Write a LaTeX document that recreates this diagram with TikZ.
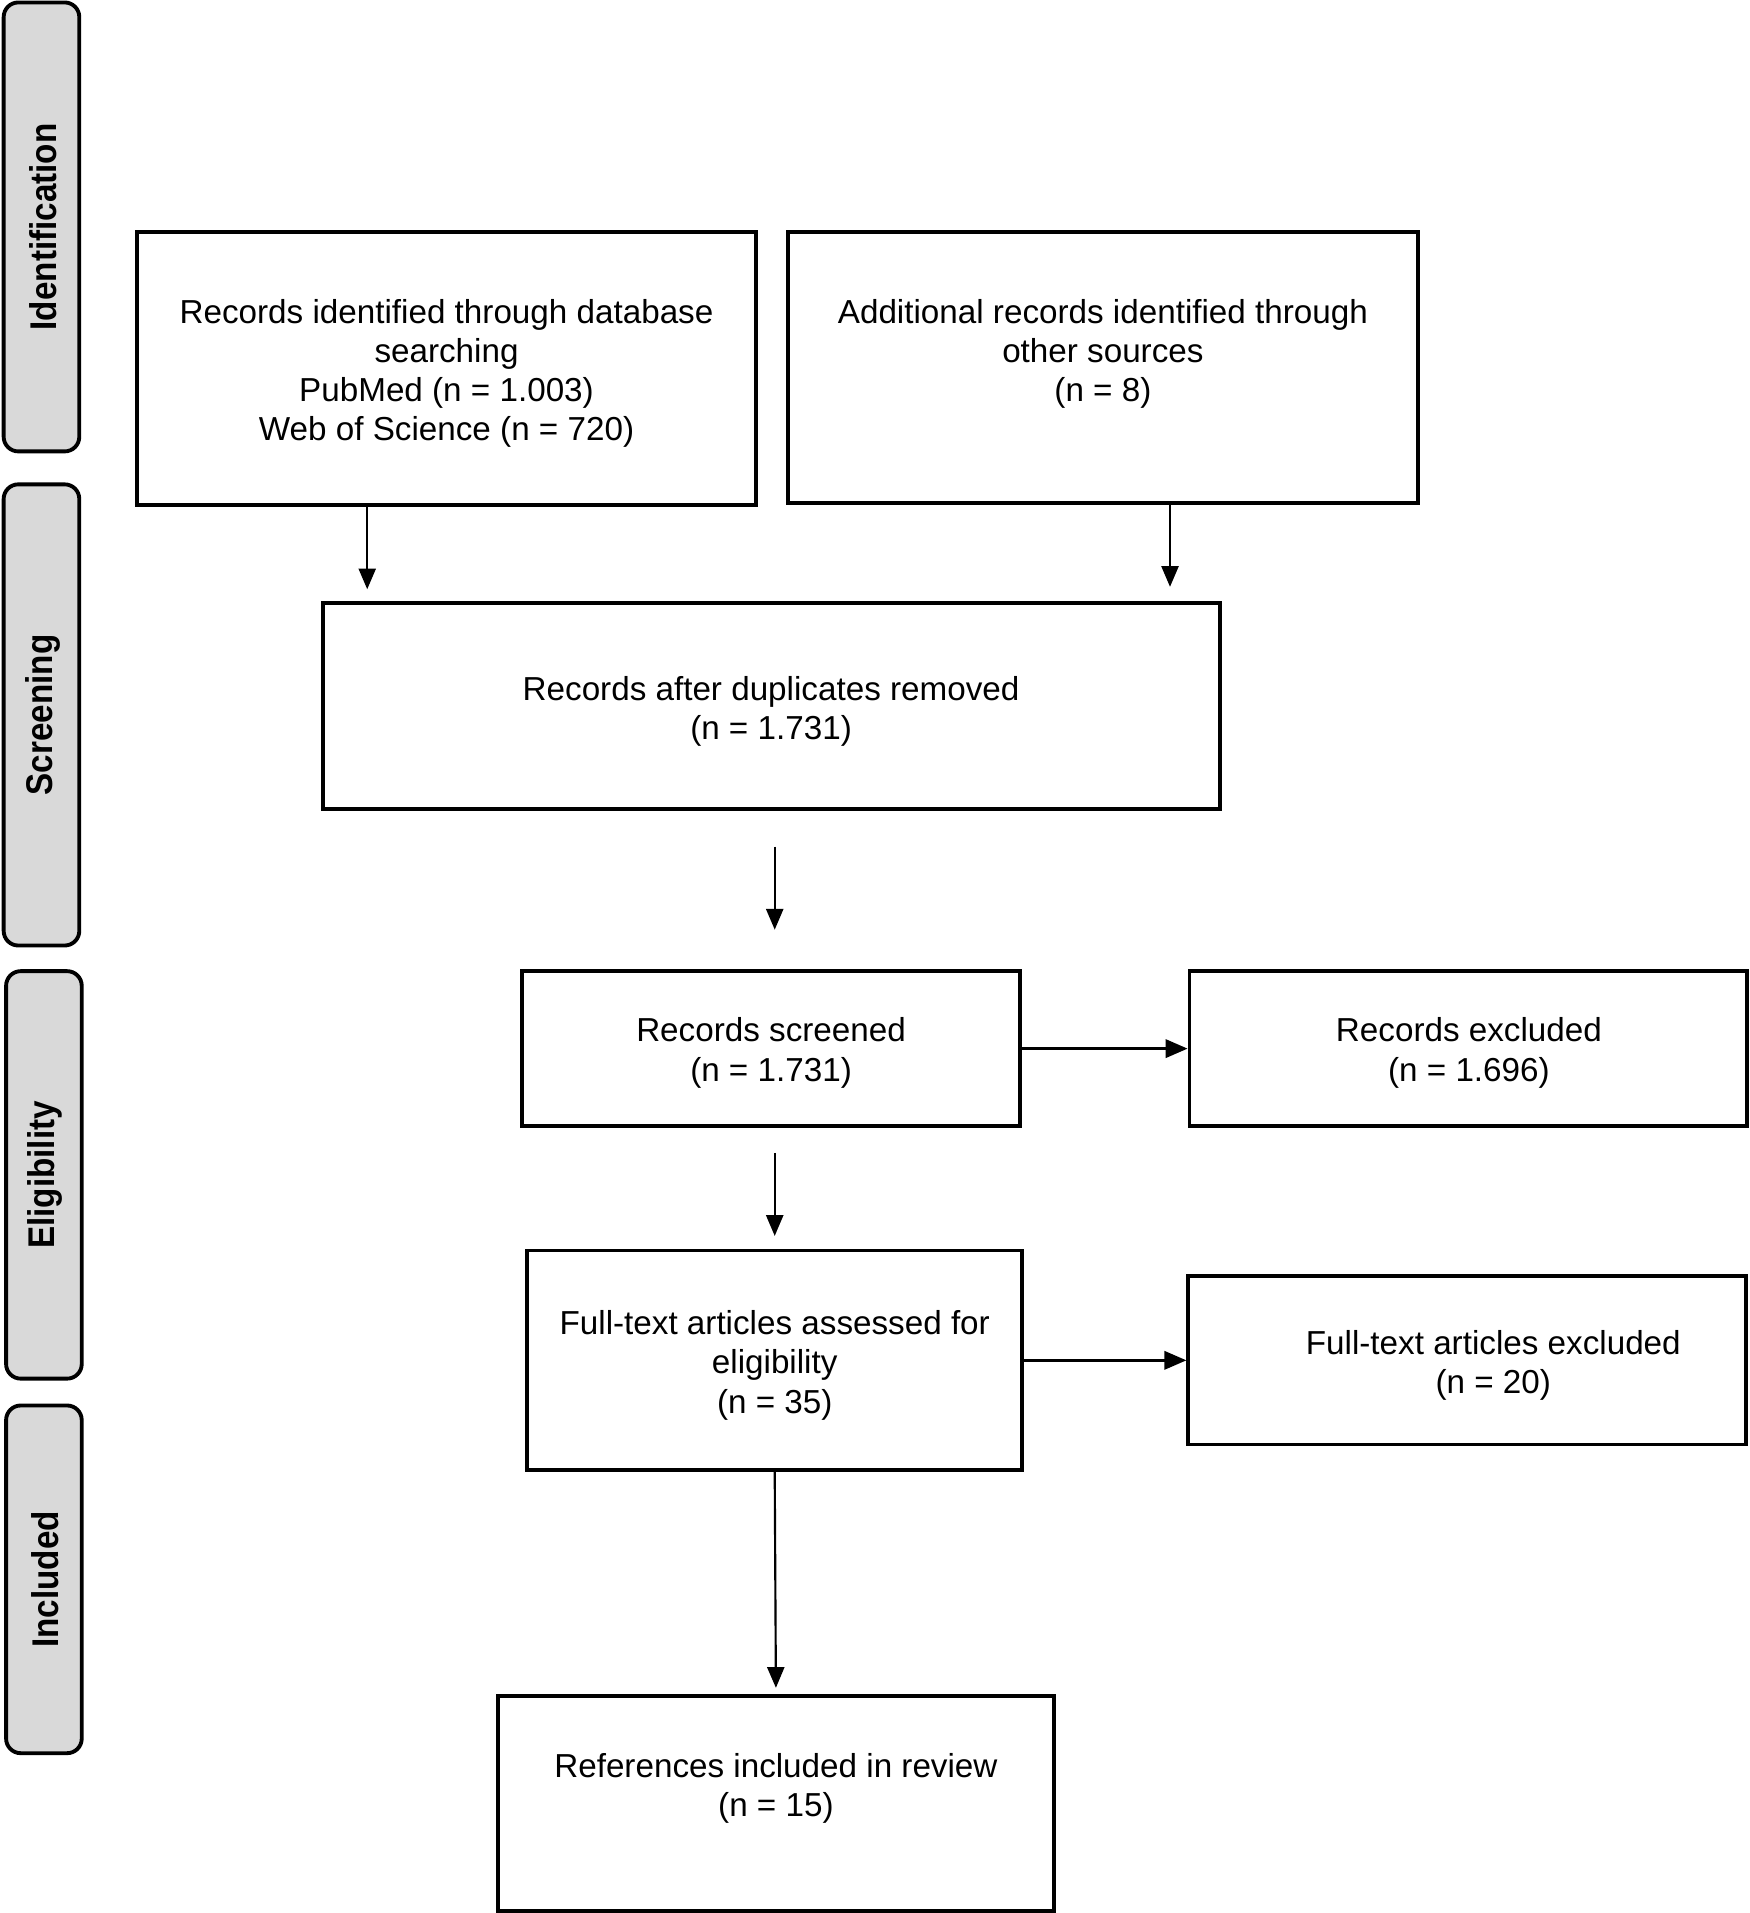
\documentclass[tikz,border=0pt]{standalone}
\usepackage{fontspec}
\setmainfont{Liberation Sans}
\usetikzlibrary{arrows.meta,calc}
\begin{document}
\begin{tikzpicture}[x=0.02cm,y=-0.02cm,
  box/.style={draw=black,line width=1.8pt,fill=white,inner sep=0pt},
  tab/.style={draw=black,line width=1.8pt,fill=black!15,rounded corners=0.24cm,inner sep=0pt},
  tabtxt/.style={font=\fontsize{15.5}{18}\selectfont\bfseries,rotate=90,inner sep=0pt},
  txt/.style={font=\fontsize{15.5}{18.3}\selectfont,align=center,inner sep=0pt,yshift=-3*0.02cm},
  arr/.style={line width=1pt,-{Triangle[length=0.34cm,width=0.28cm]}},
  harr/.style={line width=1.2pt,-{Triangle[length=0.36cm,width=0.3cm]}}]
\useasboundingbox (0,0) rectangle (1434,1568);
% phase tabs
\node[tab,minimum width=62*0.02cm,minimum height=368*0.02cm] (tid) at (34,186) {};
\node[tabtxt] (lid) at (35,186) {\scalebox{1}[1.12]{Identification}};
\node[tab,minimum width=62*0.02cm,minimum height=378*0.02cm] (tsc) at (34,586) {};
\node[tabtxt] (lsc) at (35,586) {\scalebox{1}[1.12]{Screening}};
\node[tab,minimum width=62*0.02cm,minimum height=334*0.02cm] (tel) at (36,963) {};
\node[tabtxt] (lel) at (37,963) {\scalebox{1}[1.12]{Eligibility}};
\node[tab,minimum width=62*0.02cm,minimum height=285*0.02cm] (tin) at (36,1294.5) {};
\node[tabtxt] (lin) at (37,1294.5) {\scalebox{1}[1.12]{Included}};
% boxes
\node[box,minimum width=508*0.02cm,minimum height=224*0.02cm] (b1) at (366,302) {};
\node[txt] (t1) at (366,303) {Records identified through database\\searching\\PubMed (n = 1.003)\\Web of Science (n = 720)};
\node[box,minimum width=516*0.02cm,minimum height=222*0.02cm] (b2) at (904,301) {};
\node[txt] (t2) at (904,287) {Additional records identified through\\other sources\\(n = 8)};
\node[box,minimum width=735*0.02cm,minimum height=169*0.02cm] (b3) at (632.5,578.5) {};
\node[txt] (t3) at (632,580) {Records after duplicates removed\\(n = 1.731)};
\node[box,minimum width=408*0.02cm,minimum height=127*0.02cm] (b4) at (632,859.5) {};
\node[txt] (t4) at (632,860) {Records screened\\(n = 1.731)};
\node[box,minimum width=457*0.02cm,minimum height=127*0.02cm] (b5) at (1203.5,859.5) {};
\node[txt] (t5) at (1204,860) {Records excluded\\(n = 1.696)};
\node[box,minimum width=406*0.02cm,minimum height=180*0.02cm] (b6) at (635,1115) {};
\node[txt] (t6) at (635,1116) {Full-text articles assessed for\\eligibility\\(n = 35)};
\node[box,minimum width=457*0.02cm,minimum height=138*0.02cm] (b7) at (1202.5,1115) {};
\node[txt] (t7) at (1224,1116) {Full-text articles excluded\\(n = 20)};
\node[box,minimum width=456*0.02cm,minimum height=176*0.02cm] (b8) at (636,1478) {};
\node[txt] (t8) at (636,1463) {References included in review\\(n = 15)};
% connectors
\coordinate (e1) at (301,483);
\coordinate (e2) at (959,481);
\coordinate (s3) at (635,694);
\coordinate (e3) at (635,762);
\coordinate (s4) at (635,945);
\coordinate (e4) at (635,1013);
\draw[arr] (b1.south -| e1) -- (e1);
\draw[arr] (b2.south -| e2) -- (e2);
\draw[arr] (s3) -- (e3);
\draw[arr] (s4) -- (e4);
\draw[arr,shorten >=5*0.02cm] (b6.south) -- (b8.north);
\draw[harr] (b4.east) -- (b5.west);
\draw[harr] (b6.east) -- (b6.east -| b7.west);
\end{tikzpicture}
\end{document}
